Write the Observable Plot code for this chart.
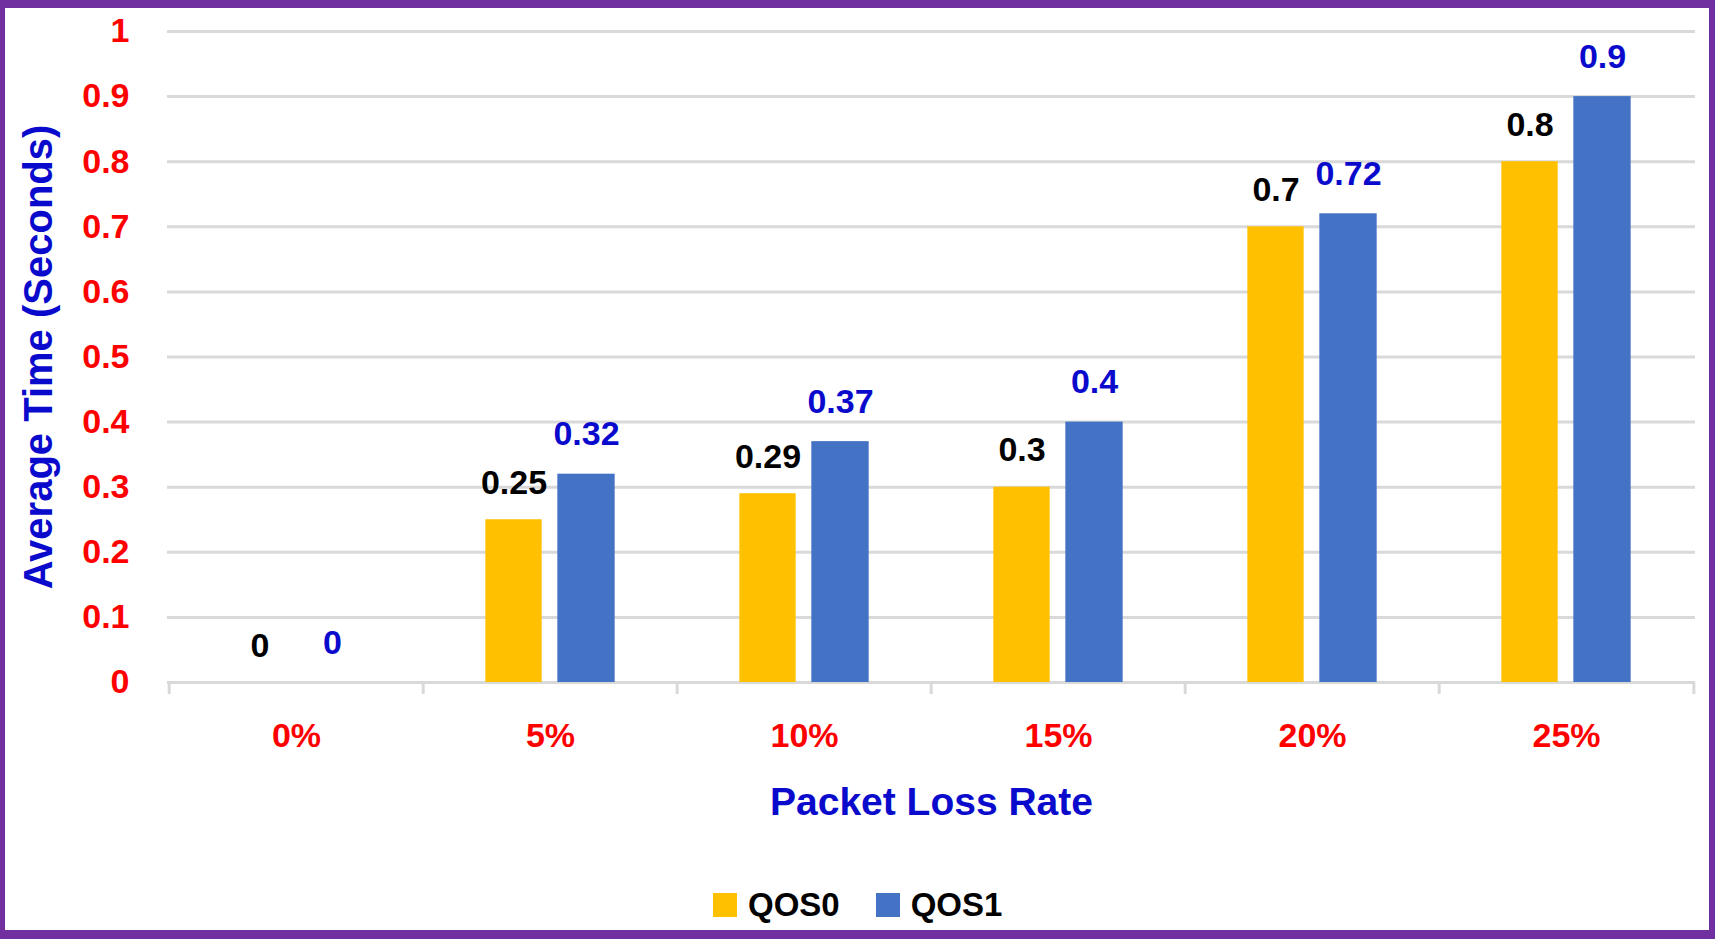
<!DOCTYPE html>
<html>
<head>
<meta charset="utf-8">
<script src="https://cdn.jsdelivr.net/npm/d3@7"></script>
<script src="https://cdn.jsdelivr.net/npm/@observablehq/plot@0.6"></script>
<style>
  html, body { margin: 0; padding: 0; background: #fff; }
  #frame {
    position: relative;
    width: 1715px; height: 939px; box-sizing: border-box;
    border-style: solid; border-color: #7030A0;
    border-width: 8px 6px 9px 5px;
    background: #fff;
    font-family: "Liberation Sans", Arial, sans-serif;
  }
  #legend {
    position: absolute; top: 878px; left: 708px;
    display: flex; align-items: center;
    font-weight: bold; font-size: 33px; color: #000;
  }
  #legend .sw { width: 24px; height: 24px; display: inline-block; margin-right: 11px; }
  #legend .item { display: flex; align-items: center; }
</style>
</head>
<body>
<div id="frame">
  <div id="chart"></div>
  <div id="legend"></div>
</div>
<script>
const categories = ["0%", "5%", "10%", "15%", "20%", "25%"];
const series = ["QOS0", "QOS1"];
const qos0 = [0, 0.25, 0.29, 0.3, 0.7, 0.8];
const qos1 = [0, 0.32, 0.37, 0.4, 0.72, 0.9];
const yTicks = [0, 0.1, 0.2, 0.3, 0.4, 0.5, 0.6, 0.7, 0.8, 0.9, 1];
const colors = {QOS0: "#FFC000", QOS1: "#4472C4"};
const labelColors = {QOS0: "#000000", QOS1: "#0A0ACC"};

const data0 = categories.map((c, i) => ({rate: c, series: "QOS0", value: qos0[i]}));
const data1 = categories.map((c, i) => ({rate: c, series: "QOS1", value: qos1[i]}));

const W = 1704, H = 840;
const mL = 162, mR = 14, mT = 23, mB = 166;
const step = (W - mL - mR) / categories.length;
const frameH = H - mT - mB;
const grid = "#D9D9D9";
const red = "#FF0000";
const blue = "#0A0ACC";
const font = "Liberation Sans, Arial, sans-serif";

const chart = Plot.plot({
  width: W, height: H,
  marginLeft: mL, marginRight: mR, marginTop: mT, marginBottom: mB,
  style: {fontFamily: font, background: "transparent"},
  x: {type: "band", domain: categories, padding: 0},
  y: {domain: [0, 1]},
  marks: [
    Plot.gridY(yTicks, {stroke: grid, strokeOpacity: 1, strokeWidth: 3}),
    Plot.ruleX(categories, {x: d => d, dx: -step / 2, stroke: grid, strokeWidth: 3, insetTop: frameH, insetBottom: -12}),
    Plot.ruleX([categories[categories.length - 1]], {x: d => d, dx: step / 2, stroke: grid, strokeWidth: 3, insetTop: frameH, insetBottom: -12}),
    Plot.barY(data0, {x: "rate", y: "value", fill: colors.QOS0, insetLeft: step / 2 - 65, insetRight: step / 2 + 8}),
    Plot.barY(data1, {x: "rate", y: "value", fill: colors.QOS1, insetLeft: step / 2 + 7, insetRight: step / 2 - 65}),
    Plot.text(data0, {x: "rate", y: "value", text: d => String(d.value), dx: -36.5, dy: -26, lineAnchor: "bottom",
      fill: labelColors.QOS0, fontSize: 34, fontWeight: "bold"}),
    Plot.text(data1, {x: "rate", y: "value", text: d => String(d.value), dx: 36, dy: -29, lineAnchor: "bottom",
      fill: labelColors.QOS1, fontSize: 34, fontWeight: "bold"}),
    Plot.axisY({ticks: yTicks, tickFormat: d => String(+d.toFixed(1)), tickSize: 0, tickPadding: 38,
      fill: red, fontSize: 34, fontWeight: "bold", label: null}),
    Plot.axisY({ticks: [], label: "Average Time (Seconds)", labelAnchor: "center", labelArrow: "none", labelOffset: 144,
      fill: blue, fontSize: 40, fontWeight: "bold", tickSize: 0}),
    Plot.axisX({tickSize: 0, tickPadding: 40, fill: red, fontSize: 34, fontWeight: "bold", label: null}),
    Plot.axisX({ticks: [], label: "Packet Loss Rate", labelAnchor: "center", labelArrow: "none", labelOffset: 132,
      fill: blue, fontSize: 39, fontWeight: "bold", tickSize: 0})
  ]
});
document.getElementById("chart").appendChild(chart);

const legend = document.getElementById("legend");
series.forEach((s, i) => {
  const item = document.createElement("div");
  item.className = "item";
  if (i > 0) item.style.marginLeft = "36px";
  const sw = document.createElement("span");
  sw.className = "sw";
  sw.style.background = colors[s];
  const t = document.createElement("span");
  t.textContent = s;
  item.appendChild(sw);
  item.appendChild(t);
  legend.appendChild(item);
});
</script>
</body>
</html>
